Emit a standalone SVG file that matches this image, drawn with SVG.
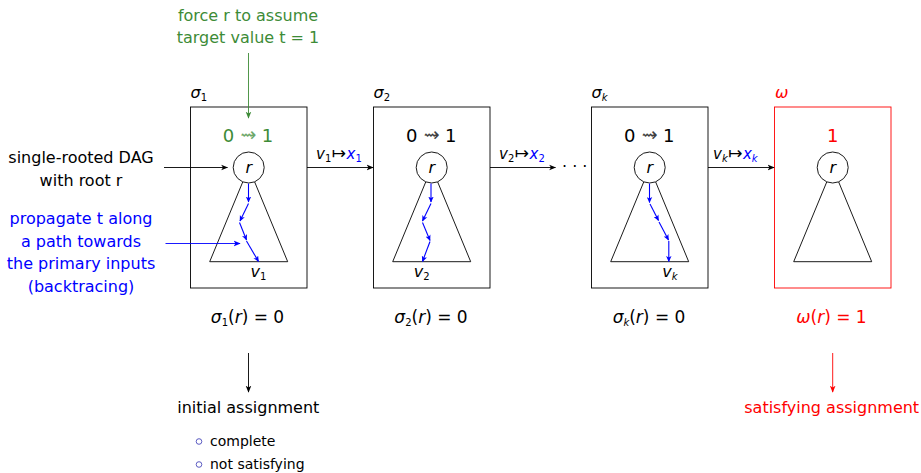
<svg xmlns="http://www.w3.org/2000/svg" width="921" height="473" viewBox="0 0 921 473">
<style>
text{font-family:"DejaVu Sans","Liberation Sans",sans-serif;font-size:16px;fill:#000}
.c{text-anchor:middle}
.i{font-style:italic}
.g{fill:#3d8b37}
.b{fill:#0000ff}
.r{fill:#ff0000}
.box{fill:none;stroke:#000;stroke-width:0.9}
.rbox{fill:none;stroke:#ff0000;stroke-width:0.9}
.tri{fill:none;stroke:#000;stroke-width:0.9}
.node{fill:#fff;stroke:#000;stroke-width:0.9}
.bp{stroke:#0000ff;stroke-width:1.1;fill:none;marker-end:url(#ab)}
.k{stroke:#000;stroke-width:0.9;fill:none;marker-end:url(#ak)}
.title{font-size:18px}
.sq{font-size:19px;opacity:0.75}
.lbl{font-size:15px}
.mapsto{font-size:17px}
.math{font-size:17px}
.sub{font-size:10px}
.item{font-size:14px}
.bul{fill:none;stroke:#3333b2;stroke-width:0.8}
</style>
<defs>
<marker id="ab" viewBox="0 0 10 10" refX="9" refY="5" markerWidth="6" markerHeight="6" markerUnits="userSpaceOnUse" orient="auto"><path d="M0,0.5 L10,5 L0,9.5 L2.5,5 z" fill="#0000ff"/></marker>
<marker id="ak" viewBox="0 0 10 10" refX="9" refY="5" markerWidth="7" markerHeight="7" markerUnits="userSpaceOnUse" orient="auto"><path d="M0,1 L10,5 L0,9 L2.5,5 z" fill="#000"/></marker>
<marker id="ag" viewBox="0 0 10 10" refX="9" refY="5" markerWidth="7" markerHeight="7" markerUnits="userSpaceOnUse" orient="auto"><path d="M0,1 L10,5 L0,9 L2.5,5 z" fill="#3d8b37"/></marker>
<marker id="ar" viewBox="0 0 10 10" refX="9" refY="5" markerWidth="7" markerHeight="7" markerUnits="userSpaceOnUse" orient="auto"><path d="M0,1 L10,5 L0,9 L2.5,5 z" fill="#ff0000"/></marker>
<marker id="abl" viewBox="0 0 10 10" refX="9" refY="5" markerWidth="7" markerHeight="7" markerUnits="userSpaceOnUse" orient="auto"><path d="M0,1 L10,5 L0,9 L2.5,5 z" fill="#0000ff"/></marker>
</defs>

<!-- side annotations -->
<g id="note-force">
<text class="c g" x="248" y="20.5">force r to assume</text>
<text class="c g" x="248" y="43">target value t = 1</text>
</g>
<g id="note-dag">
<text class="c" x="81" y="162.5">single-rooted DAG</text>
<text class="c" x="81" y="185.5">with root r</text>
</g>
<g id="note-propagate">
<text class="c b" x="81" y="224">propagate t along</text>
<text class="c b" x="81" y="246.5">a path towards</text>
<text class="c b" x="81" y="269">the primary inputs</text>
<text class="c b" x="81" y="291.5">(backtracing)</text>
</g>

<!-- box sigma1 -->
<g id="sigma1">
<rect class="box" x="190.5" y="107" width="116.5" height="181"/>
<text x="190.5" y="98" font-size="15"><tspan class="i">σ</tspan><tspan class="sub" dy="3">1</tspan></text>
<text class="c title g" x="228.5" y="141.5">0</text>
<text class="c sq g" x="248.5" y="141">⇝</text>
<text class="c title g" x="267.5" y="141.5">1</text>
<path class="tri" d="M242.8,181.8 L209.7,261.7 L287.7,261.7 L254.6,181.8"/>
<circle class="node" cx="248.7" cy="167.5" r="15.5"/>
<text class="c i" x="248.7" y="172.5">r</text>
<line class="bp" x1="248.5" y1="183.5" x2="248.5" y2="202"/>
<line class="bp" x1="248.5" y1="203.5" x2="240" y2="221"/>
<line class="bp" x1="239.5" y1="222.5" x2="246.5" y2="240"/>
<line class="bp" x1="246.5" y1="241" x2="258.5" y2="261.5"/>
<text class="c" x="258.5" y="277"><tspan class="i">v</tspan><tspan class="sub" dy="3">1</tspan></text>
<text class="c math" x="247.5" y="322.5"><tspan class="i">σ</tspan><tspan class="sub" font-size="11" dy="3">1</tspan><tspan dy="-3">(</tspan><tspan class="i">r</tspan>) = 0</text>
</g>

<!-- box sigma2 -->
<g id="sigma2">
<rect class="box" x="373.5" y="107" width="116.5" height="181"/>
<text x="373.5" y="98" font-size="15"><tspan class="i">σ</tspan><tspan class="sub" dy="3">2</tspan></text>
<text class="c title" x="411.7" y="141.5">0</text>
<text class="c sq" x="431.7" y="141">⇝</text>
<text class="c title" x="450.7" y="141.5">1</text>
<path class="tri" d="M425.8,181.8 L392.7,261.7 L470.7,261.7 L437.6,181.8"/>
<circle class="node" cx="431.7" cy="167.5" r="15.5"/>
<text class="c i" x="431.7" y="172.5">r</text>
<line class="bp" x1="431" y1="183.5" x2="431" y2="202"/>
<line class="bp" x1="431" y1="203.5" x2="422.5" y2="221"/>
<line class="bp" x1="422.5" y1="222.5" x2="430" y2="240.5"/>
<line class="bp" x1="430" y1="241.5" x2="422.5" y2="261.5"/>
<text class="c" x="421.7" y="277"><tspan class="i">v</tspan><tspan class="sub" dy="3">2</tspan></text>
<text class="c math" x="431" y="322.5"><tspan class="i">σ</tspan><tspan class="sub" font-size="11" dy="3">2</tspan><tspan dy="-3">(</tspan><tspan class="i">r</tspan>) = 0</text>
</g>

<!-- box sigmak -->
<g id="sigmak">
<rect class="box" x="591.5" y="107" width="116.5" height="181"/>
<text x="591.5" y="98" font-size="15"><tspan class="i">σ</tspan><tspan class="sub i" dy="3">k</tspan></text>
<text class="c title" x="629.7" y="141.5">0</text>
<text class="c sq" x="649.7" y="141">⇝</text>
<text class="c title" x="668.7" y="141.5">1</text>
<path class="tri" d="M643.8,181.8 L610.7,261.7 L688.7,261.7 L655.6,181.8"/>
<circle class="node" cx="649.7" cy="167.5" r="15.5"/>
<text class="c i" x="649.7" y="172.5">r</text>
<line class="bp" x1="649.5" y1="183.5" x2="649.5" y2="202.5"/>
<line class="bp" x1="650" y1="204" x2="658.5" y2="220.5"/>
<line class="bp" x1="659" y1="222" x2="668.5" y2="240"/>
<line class="bp" x1="668.8" y1="241" x2="668.8" y2="261.5"/>
<text class="c" x="670" y="277"><tspan class="i">v</tspan><tspan class="sub i" dy="3">k</tspan></text>
<text class="c math" x="649" y="322.5"><tspan class="i">σ</tspan><tspan class="sub i" font-size="11" dy="3">k</tspan><tspan dy="-3">(</tspan><tspan class="i">r</tspan>) = 0</text>
</g>

<!-- box omega -->
<g id="omega">
<rect class="rbox" x="774.5" y="107" width="116.5" height="181"/>
<text class="i r" x="775" y="98" font-size="15">ω</text>
<text class="c title r" x="832.7" y="141.5">1</text>
<path class="tri" d="M826.8,181.8 L793.7,261.7 L871.7,261.7 L838.6,181.8"/>
<circle class="node" cx="832.7" cy="167.5" r="15.5"/>
<text class="c i" x="832.7" y="172.5">r</text>
<text class="c math r" x="831.5" y="322.5"><tspan class="i">ω</tspan>(<tspan class="i">r</tspan>) = 1</text>
</g>

<!-- bottom notes -->
<g id="note-initial">
<text class="c" x="248.3" y="413">initial assignment</text>
<circle class="bul" cx="199" cy="441.5" r="2.8"/>
<text class="item" x="210" y="445.5">complete</text>
<circle class="bul" cx="199" cy="464.5" r="2.8"/>
<text class="item" x="210" y="468.5">not satisfying</text>
</g>
<g id="note-satisfying">
<text class="c r" x="831.7" y="413">satisfying assignment</text>
</g>

<!-- connectors -->
<g id="connectors">
<line stroke="#3d8b37" stroke-width="0.9" marker-end="url(#ag)" x1="248.5" y1="53" x2="248.5" y2="118"/>
<line class="k" x1="164" y1="167.5" x2="227.5" y2="167.5"/>
<line stroke="#0000ff" stroke-width="0.9" marker-end="url(#abl)" x1="165.5" y1="243.5" x2="240" y2="243.5"/>
<line class="k" x1="307" y1="167.5" x2="373" y2="167.5"/>
<text class="lbl" x="316" y="159"><tspan class="i">v</tspan><tspan class="sub" dy="2.5">1</tspan><tspan class="mapsto" dy="-2.5" dx="0.5">↦</tspan><tspan class="i b" dx="0.5">x</tspan><tspan class="sub b" dy="2.5">1</tspan></text>
<line class="k" x1="490" y1="167.5" x2="555.5" y2="167.5"/>
<text class="lbl" x="499" y="159"><tspan class="i">v</tspan><tspan class="sub" dy="2.5">2</tspan><tspan class="mapsto" dy="-2.5" dx="0.5">↦</tspan><tspan class="i b" dx="0.5">x</tspan><tspan class="sub b" dy="2.5">2</tspan></text>
<text x="562" y="171.5" font-size="14">· · ·</text>
<line class="k" x1="708" y1="167.5" x2="774" y2="167.5"/>
<text class="lbl" x="713" y="159"><tspan class="i">v</tspan><tspan class="sub i" dy="2.5">k</tspan><tspan class="mapsto" dy="-2.5" dx="0.5">↦</tspan><tspan class="i b" dx="0.5">x</tspan><tspan class="sub i b" dy="2.5">k</tspan></text>
<line class="k" x1="248.5" y1="353" x2="248.5" y2="392"/>
<line stroke="#ff0000" stroke-width="0.9" marker-end="url(#ar)" x1="832.7" y1="353" x2="832.7" y2="392"/>
</g>
</svg>
